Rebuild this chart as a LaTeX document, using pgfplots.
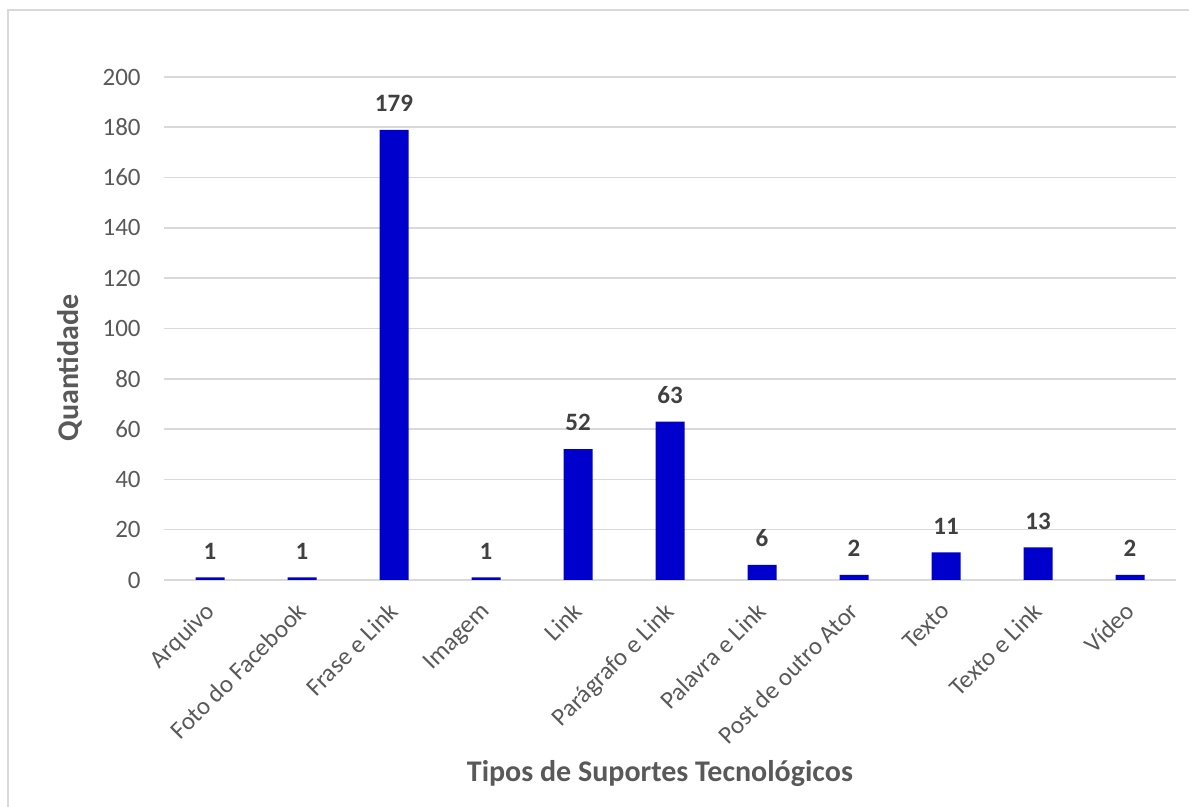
\documentclass[border=0pt]{standalone}
\usepackage{pgfplots}
\pgfplotsset{compat=1.18}
\usepackage{fontspec}
\setmainfont{Carlito}
\definecolor{barblue}{HTML}{0000CC}
\definecolor{gridgray}{HTML}{D9D9D9}
\definecolor{ticktext}{HTML}{595959}
\definecolor{labeltext}{HTML}{404040}

\begin{document}
\begin{tikzpicture}[x=1pt,y=1pt]
\path[use as bounding box] (0,0) rectangle (594.5,403.5);
% chart frame
\draw[gridgray, line width=0.8pt] (4,0) -- (4,398.5) -- (594.5,398.5);
\begin{axis}[
  at={(82pt,113.5pt)}, anchor=south west,
  scale only axis, width=506pt, height=251.5pt,
  ymin=0, ymax=200, ytick={0,20,...,200},
  xmin=-0.5, xmax=10.5, xtick={0,...,10},
  xticklabels={Arquivo, Foto do Facebook, Frase e Link, Imagem, Link,
    Parágrafo e Link, Palavra e Link, Post de outro Ator, Texto,
    Texto e Link, Vídeo},
  axis line style={draw=none},
  major tick length=0pt,
  ymajorgrids, grid style={gridgray, line width=0.8pt},
  tick label style={font=\fontsize{12.5}{15}\selectfont, color=ticktext},
  /pgf/number format/assume math mode=true,
  yticklabel style={anchor=east, inner sep=0pt, xshift=-11.5pt},
  xticklabel style={rotate=45, anchor=north east, inner sep=0pt, xshift=-9.6pt, yshift=-5pt},
  xlabel={Tipos de Suportes Tecnológicos},
  ylabel={Quantidade},
  label style={font=\bfseries\fontsize{15}{18}\selectfont, color=ticktext},
  xlabel style={at={(axis description cs:0.49,-0.384)}, anchor=center},
  ylabel style={at={(axis description cs:-0.093,0.4215)}, anchor=center, rotate=0},
  ybar, bar width=14.5pt,
  nodes near coords,
  every node near coord/.append style={font=\bfseries\fontsize{12.5}{15}\selectfont,
    color=labeltext, yshift=5.5pt},
]
\addplot[fill=barblue, draw=none] coordinates {
  (0,1) (1,1) (2,179) (3,1) (4,52) (5,63) (6,6) (7,2) (8,11) (9,13) (10,2)
};
\end{axis}
\end{tikzpicture}
\end{document}
